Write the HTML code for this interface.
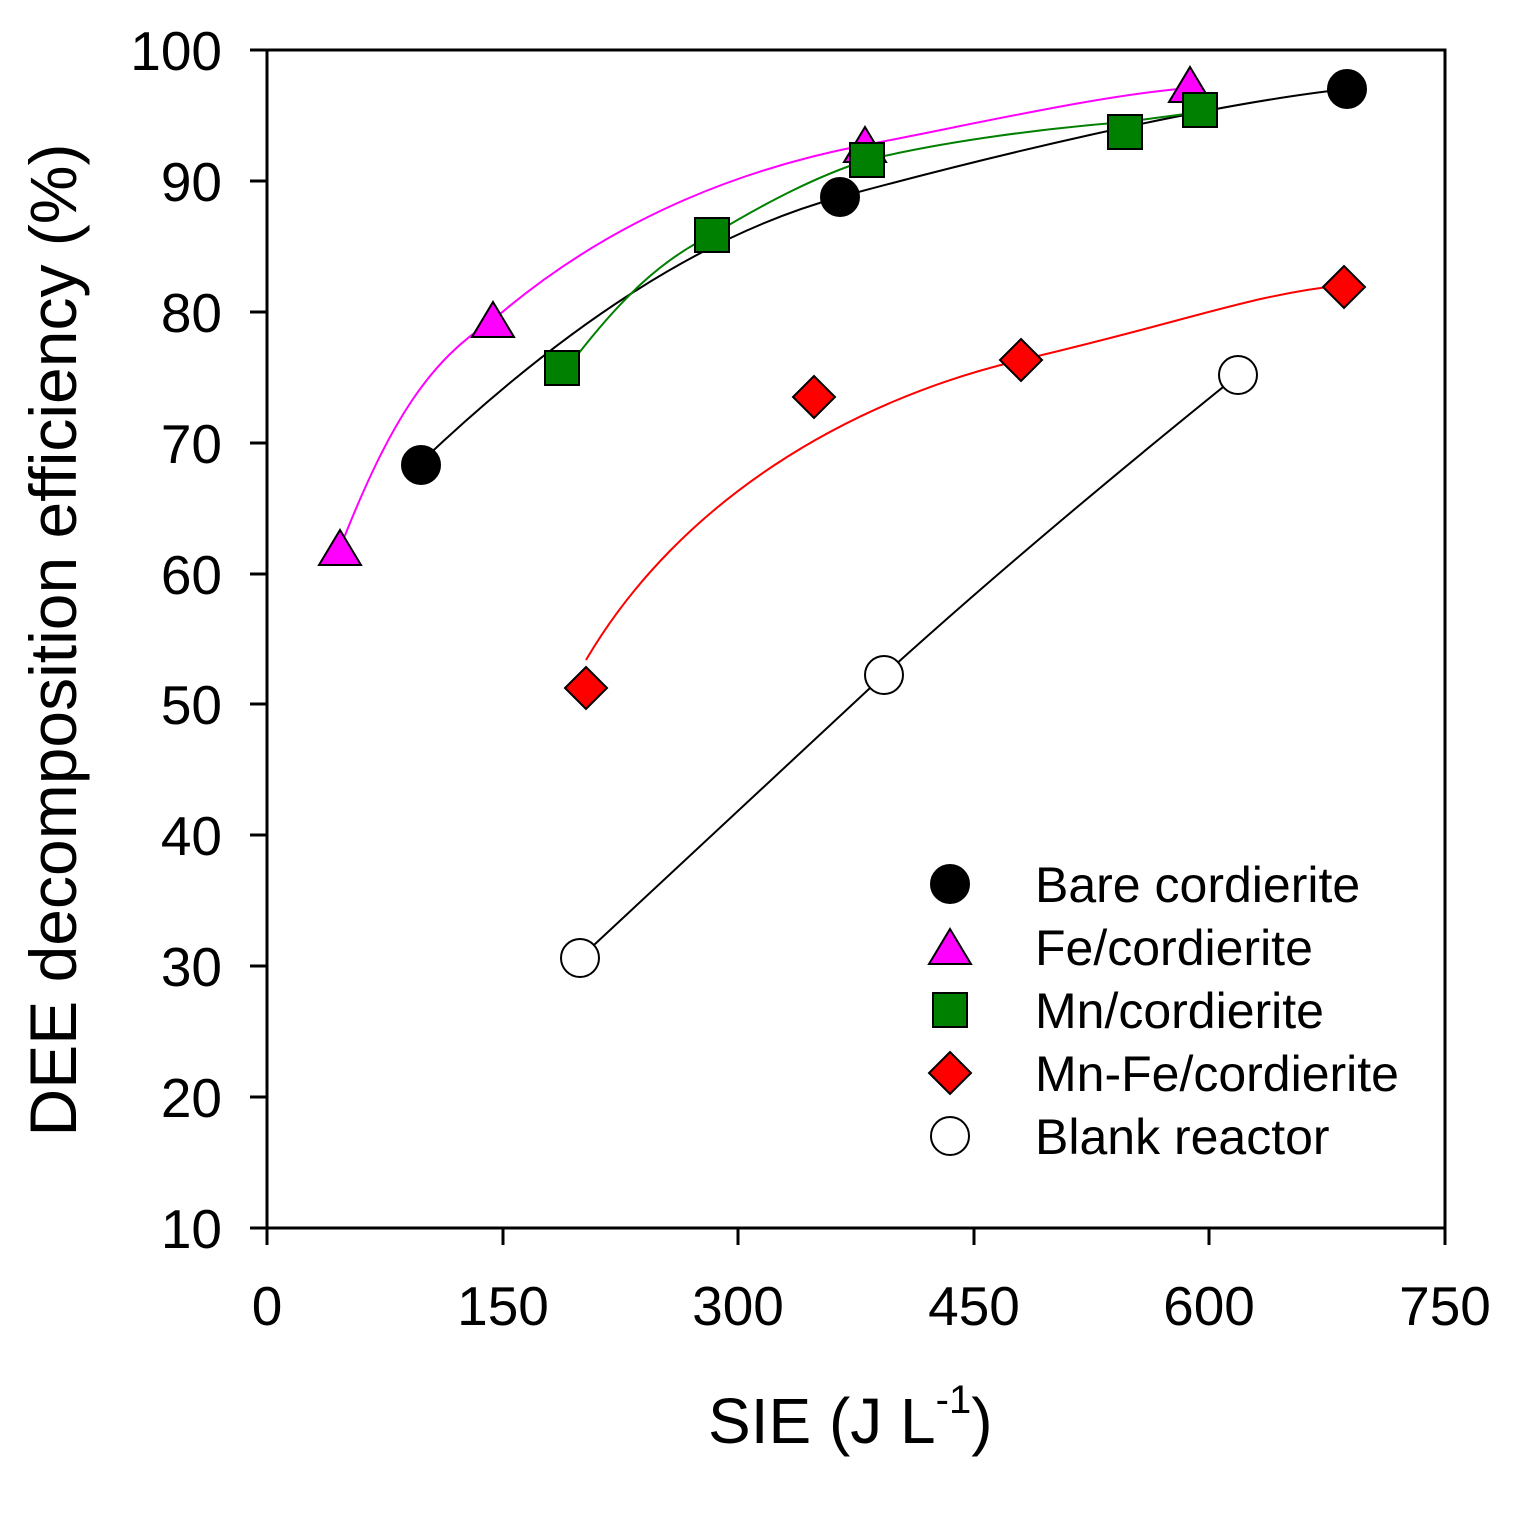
<!DOCTYPE html>
<html><head><meta charset="utf-8"><style>html,body{margin:0;padding:0;background:#fff}</style></head>
<body>
<svg width="1517" height="1517" viewBox="0 0 1517 1517" xmlns="http://www.w3.org/2000/svg" font-family="Liberation Sans, Arial, sans-serif">
<rect width="1517" height="1517" fill="#fff"/>
<rect x="267" y="50" width="1178" height="1178" fill="none" stroke="#000" stroke-width="3"/>
<g stroke="#000" stroke-width="3">
<line x1="250" y1="50" x2="267" y2="50"/><line x1="250" y1="181" x2="267" y2="181"/><line x1="250" y1="312" x2="267" y2="312"/><line x1="250" y1="443" x2="267" y2="443"/><line x1="250" y1="574" x2="267" y2="574"/><line x1="250" y1="704" x2="267" y2="704"/><line x1="250" y1="835" x2="267" y2="835"/><line x1="250" y1="966" x2="267" y2="966"/><line x1="250" y1="1097" x2="267" y2="1097"/><line x1="250" y1="1228" x2="267" y2="1228"/>
<line x1="267" y1="1228" x2="267" y2="1245"/><line x1="503" y1="1228" x2="503" y2="1245"/><line x1="738" y1="1228" x2="738" y2="1245"/><line x1="974" y1="1228" x2="974" y2="1245"/><line x1="1209" y1="1228" x2="1209" y2="1245"/><line x1="1445" y1="1228" x2="1445" y2="1245"/>
</g>
<g font-size="55" text-anchor="end" fill="#000">
<text x="222" y="70">100</text><text x="222" y="201">90</text><text x="222" y="332">80</text><text x="222" y="463">70</text><text x="222" y="594">60</text><text x="222" y="724">50</text><text x="222" y="855">40</text><text x="222" y="986">30</text><text x="222" y="1117">20</text><text x="222" y="1248">10</text>
</g>
<g font-size="55" text-anchor="middle" fill="#000">
<text x="267" y="1325">0</text><text x="503" y="1325">150</text><text x="738" y="1325">300</text><text x="974" y="1325">450</text><text x="1209" y="1325">600</text><text x="1445" y="1325">750</text>
</g>
<text x="708" y="1443" font-size="64">SIE (J L<tspan font-size="40" dy="-30">-1</tspan><tspan dy="30">)</tspan></text>
<text transform="translate(76,640) rotate(-90)" font-size="66" text-anchor="middle">DEE decomposition efficiency (%)</text>
<g fill="none" stroke-width="2">
<path d="M421,462 C560,330 700,235 840,197 S1200,105 1347,89" stroke="#000"/>
<path d="M340,548 C390,420 430,360 493,320 C620,210 760,165 865,145 S1100,95 1190,88" stroke="#ff00ff"/>
<path d="M575,358 C620,300 660,260 712,235 C770,200 820,175 867,160 C950,140 1050,128 1125,122 L1200,112" stroke="#008000"/>
<path d="M586,660 C680,500 850,400 1021,360 S1250,295 1344,285" stroke="#ff0000"/>
<path d="M580,958 L884,675 C1000,570 1120,470 1238,375" stroke="#000"/>
</g>
<g stroke="#000" stroke-width="2">
<circle cx="421" cy="465" r="19" fill="#000"/><circle cx="840" cy="197" r="19" fill="#000"/><circle cx="1347" cy="89" r="19" fill="#000"/>
<g fill="#ff00ff"><polygon points="340,530 361,565 319,565"/><polygon points="493,302 514,337 472,337"/><polygon points="865,127 886,162 844,162"/><polygon points="1190,67 1211,102 1169,102"/></g>
<g fill="#008000"><rect x="545" y="351" width="34" height="34"/><rect x="695" y="218" width="34" height="34"/><rect x="850" y="143" width="34" height="34"/><rect x="1108" y="115" width="34" height="34"/><rect x="1183" y="93" width="34" height="34"/></g>
<g fill="#ff0000"><polygon points="586,667 607,688 586,709 565,688"/><polygon points="814,376 835,397 814,418 793,397"/><polygon points="1021,339 1042,360 1021,381 1000,360"/><polygon points="1344,266 1365,287 1344,308 1323,287"/></g>
<g fill="#fff"><circle cx="580" cy="958" r="19"/><circle cx="884" cy="675" r="19"/><circle cx="1238" cy="375" r="19"/></g>
<circle cx="950" cy="884" r="19" fill="#000"/>
<polygon points="950,929 971,964 929,964" fill="#ff00ff"/>
<rect x="933" y="993" width="34" height="34" fill="#008000"/>
<polygon points="950,1052 971,1073 950,1094 929,1073" fill="#ff0000"/>
<circle cx="950" cy="1136" r="19" fill="#fff"/>
</g>
<g font-size="50" fill="#000">
<text x="1035" y="902">Bare cordierite</text>
<text x="1035" y="965">Fe/cordierite</text>
<text x="1035" y="1028">Mn/cordierite</text>
<text x="1035" y="1091">Mn-Fe/cordierite</text>
<text x="1035" y="1154">Blank reactor</text>
</g>
</svg>
</body></html>
